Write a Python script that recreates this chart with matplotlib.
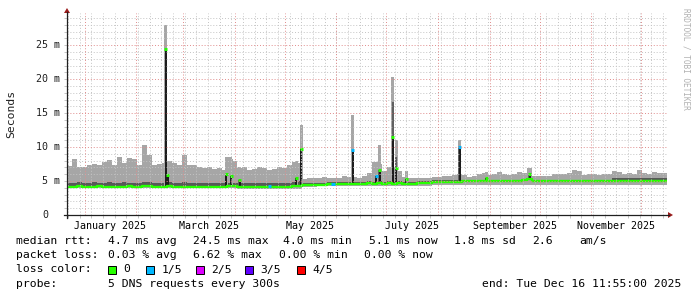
import numpy as np
import matplotlib.pyplot as plt
import matplotlib.dates as mdates
from matplotlib.patches import Rectangle, Polygon
from datetime import datetime, timedelta

plt.rcParams['font.family'] = ['DejaVu Sans Mono']

# one year of DNS probes, a smoke column every 3 days
end_time = datetime(2025, 12, 16, 11, 55)
start_time = end_time - timedelta(days=360)
step_days = 3

# values in ms
smoke_top = [7.2, 8.2, 7.1, 7.0, 7.3, 7.5, 7.4, 7.8, 8.1, 7.4,
             8.6, 7.6, 8.4, 8.2, 7.3, 10.3, 8.9, 7.4, 7.5, 7.6,
             8.0, 7.7, 7.4, 8.8, 7.4, 7.3, 7.0, 6.9, 7.1, 6.8,
             6.9, 6.7, 8.5, 8.0, 6.9, 7.0, 6.7, 6.8, 7.1, 6.9,
             6.6, 6.8, 7.0, 6.9, 7.3, 7.8, 7.6, 5.3, 5.4, 5.5,
             5.4, 5.6, 5.5, 5.4, 5.5, 5.7, 5.6, 5.6, 5.5, 5.7,
             6.2, 7.8, 7.5, 6.5, 7.0, 7.0, 6.5, 5.6, 5.5, 5.5,
             5.4, 5.4, 5.5, 5.6, 5.6, 5.7, 5.8, 5.9, 6.0, 5.9,
             5.6, 5.8, 6.0, 6.2, 5.9, 6.1, 6.3, 6.0, 5.9, 6.1,
             6.3, 6.2, 6.9, 5.8, 5.7, 5.8, 5.7, 6.0, 6.1, 6.0,
             6.2, 6.7, 6.5, 5.9, 6.0, 6.1, 5.9, 6.0, 6.1, 6.5,
             6.4, 6.1, 6.2, 6.0, 6.6, 6.2, 6.1, 6.3, 6.2, 6.2]

smoke_low = [3.95, 3.95, 3.95, 3.95, 3.95, 3.95, 3.95, 3.95, 3.95, 3.95,
             3.95, 3.95, 3.95, 3.95, 3.95, 3.95, 3.95, 3.95, 3.95, 3.95,
             3.95, 3.95, 3.95, 3.95, 3.95, 3.95, 3.95, 3.95, 3.95, 3.95,
             3.95, 3.95, 3.95, 3.95, 3.9, 3.9, 3.9, 3.9, 3.9, 3.9,
             3.9, 3.9, 3.9, 3.9, 3.9, 3.9, 3.9, 4.1, 4.15, 4.15,
             4.2, 4.2, 4.2, 4.25, 4.25, 4.25, 4.25, 4.25, 4.25, 4.25,
             4.25, 4.25, 4.25, 4.25, 4.25, 4.25, 4.25, 4.25, 4.25, 4.25,
             4.25, 4.25, 4.3, 4.35, 4.35, 4.35, 4.35, 4.4, 4.4, 4.4,
             4.35, 4.35, 4.35, 4.35, 4.35, 4.35, 4.35, 4.35, 4.35, 4.35,
             4.35, 4.35, 4.35, 4.35, 4.35, 4.35, 4.35, 4.35, 4.35, 4.35,
             4.35, 4.35, 4.35, 4.35, 4.35, 4.35, 4.35, 4.35, 4.35, 4.4,
             4.4, 4.4, 4.4, 4.4, 4.4, 4.4, 4.4, 4.4, 4.4, 4.4]

dark_top = [4.75, 4.75, 4.8, 4.75, 4.75, 4.8, 4.75, 4.75, 4.8, 4.75,
            4.75, 4.8, 4.75, 4.75, 4.75, 4.85, 4.9, 4.75, 4.75, 4.75,
            4.8, 4.75, 4.75, 4.8, 4.75, 4.75, 4.7, 4.75, 4.7, 4.7,
            4.75, 4.7, 4.75, 4.75, 4.7, 4.65, 4.65, 4.65, 4.7, 4.65,
            4.65, 4.7, 4.65, 4.65, 4.75, 4.85, 4.95, 4.65, 4.7, 4.7,
            4.75, 4.75, 4.8, 4.85, 4.85, 4.9, 4.9, 4.9, 4.9, 4.9,
            4.95, 4.9, 4.95, 4.9, 4.95, 4.9, 4.95, 4.9, 4.9, 4.9,
            4.95, 4.95, 5.0, 5.15, 5.15, 5.15, 5.15, 5.2, 5.2, 5.15,
            5.1, 5.1, 5.1, 5.15, 5.1, 5.1, 5.1, 5.1, 5.1, 5.1,
            5.15, 5.35, 5.45, 5.1, 5.1, 5.1, 5.1, 5.1, 5.1, 5.1,
            5.1, 5.15, 5.1, 5.1, 5.1, 5.1, 5.1, 5.1, 5.15, 5.45,
            5.45, 5.4, 5.45, 5.45, 5.45, 5.45, 5.4, 5.45, 5.45, 5.45]

rtt_med = [4.15, 4.15, 4.2, 4.15, 4.15, 4.15, 4.2, 4.15, 4.15, 4.15,
           4.15, 4.15, 4.2, 4.15, 4.15, 4.2, 4.25, 4.15, 4.15, 4.15,
           4.2, 4.15, 4.15, 4.15, 4.15, 4.15, 4.15, 4.15, 4.15, 4.15,
           4.15, 4.15, 4.2, 4.2, 4.15, 4.15, 4.1, 4.1, 4.1, 4.1,
           4.1, 4.15, 4.1, 4.1, 4.15, 4.2, 4.3, 4.35, 4.4, 4.4,
           4.45, 4.45, 4.5, 4.55, 4.55, 4.6, 4.6, 4.6, 4.6, 4.6,
           4.65, 4.6, 4.65, 4.6, 4.65, 4.6, 4.65, 4.6, 4.6, 4.6,
           4.65, 4.65, 4.7, 4.85, 4.85, 4.85, 4.85, 4.9, 4.9, 4.95,
           4.95, 4.95, 4.95, 5.0, 4.95, 4.95, 4.95, 4.95, 4.95, 4.95,
           5.0, 5.2, 5.3, 4.95, 4.95, 4.95, 4.95, 4.95, 4.95, 4.95,
           4.95, 4.95, 4.95, 4.95, 4.95, 4.95, 4.95, 4.95, 5.0, 5.0,
           5.0, 5.0, 5.0, 4.95, 5.0, 5.0, 5.0, 5.0, 5.0, 5.0]

# short bursts of slow answers
spike_dates = ['2025-02-18 20:00', '2025-02-20', '2025-03-27', '2025-03-30',
               '2025-04-04', '2025-05-08', '2025-05-11', '2025-06-11',
               '2025-06-25', '2025-06-27', '2025-07-05', '2025-07-07',
               '2025-07-13', '2025-08-14', '2025-08-30', '2025-09-25']
spike_top = [28.0, 7.8, 8.5, 8.2, 7.0, 8.0, 13.2, 14.8,
             7.8, 10.3, 20.3, 11.1, 6.5, 11.1, 6.3, 6.9]
spike_mid = [24.5, 5.9, 6.1, 5.8, 5.2, 5.5, 9.7, 9.6,
             5.7, 6.6, 16.7, 8.6, 5.3, 10.0, 5.4, 6.0]
spike_peak = [24.5, 5.9, 6.1, 5.8, 5.2, 5.5, 9.7, 9.6,
              5.7, 6.6, 11.5, 6.9, 5.3, 10.0, 5.4, 6.0]
spike_loss = [0, 0, 0, 0, 0, 0, 0, 1, 1, 0, 0, 0, 0, 1, 0, 0]

loss_dates = ['2025-04-22', '2025-05-30']
loss_vals = [4.2, 4.6]
loss_level = [1, 1]

loss_names = ['0', '1/5', '2/5', '3/5', '4/5']
loss_colors = ['#26ff00', '#00b8ff', '#dd00ff', '#5e00ff', '#ff0000']

label_months = ['2025-01', '2025-03', '2025-05', '2025-07', '2025-09', '2025-11']
label_names = ['January 2025', 'March 2025', 'May 2025', 'July 2025',
               'September 2025', 'November 2025']

y_ticks = [0, 5, 10, 15, 20, 25]
y_labels = ['0', '5 m', '10 m', '15 m', '20 m', '25 m']
y_max = 29.75

W, H = 697, 297
fig = plt.figure(figsize=(W / 100, H / 100), dpi=100)
fig.patch.set_facecolor('white')
ax = fig.add_axes([67 / W, 1 - 215 / H, 600 / W, 202 / H])

n = len(smoke_top)
xe = mdates.date2num([start_time + timedelta(days=step_days * i) for i in range(n + 1)])


def ext(a):
    return np.append(a, a[-1])


ax.fill_between(xe, ext(smoke_low), ext(smoke_top), step='post',
                color='#a6a6a6', lw=0, zorder=1)
ax.fill_between(xe, ext(rtt_med), ext(dark_top), step='post',
                color='#585858', lw=0, zorder=2)

# spikes
sx = mdates.datestr2num(spike_dates)
idx = np.clip(((sx - xe[0]) // step_days).astype(int), 0, n - 1)
base = np.array(rtt_med)[idx]
ax.bar(sx, np.array(spike_top) - base, bottom=base, width=1.8,
       color='#a6a6a6', lw=0, zorder=3)
ax.bar(sx, np.array(spike_mid) - base, bottom=base, width=1.4,
       color='#606060', lw=0, zorder=3)
ax.bar(sx, np.array(spike_peak) - base, bottom=base, width=1.2,
       color='#1c1c1c', lw=0, zorder=4)

ax.step(xe, ext(rtt_med), where='post', color=loss_colors[0], lw=1.7, zorder=5)
for x, y, l in zip(sx, spike_peak, spike_loss):
    ax.plot([x - 0.9, x + 0.9], [y, y], color=loss_colors[l], lw=2.2,
            solid_capstyle='butt', zorder=6)
for x, y, l in zip(mdates.datestr2num(loss_dates), loss_vals, loss_level):
    ax.plot([x - 1.0, x + 1.0], [y, y], color=loss_colors[l], lw=2.2,
            solid_capstyle='butt', zorder=6)

# grid on top like rrdtool
weeks = mdates.WeekdayLocator(byweekday=mdates.SU).tick_values(start_time, end_time)
months = mdates.MonthLocator().tick_values(start_time, end_time)
dot = (0, (1, 2))
for w in weeks:
    ax.axvline(w, color='#c4c4c4', lw=0.7, ls=dot, zorder=7)
for m in months:
    ax.axvline(m, color='#e08c8c', lw=0.7, ls=dot, zorder=8)
for v in range(1, int(y_max) + 1):
    if v % 5:
        ax.axhline(v, color='#c4c4c4', lw=0.7, ls=dot, zorder=7)
for v in y_ticks[1:]:
    ax.axhline(v, color='#e08c8c', lw=0.7, ls=dot, zorder=8)

ax.set_ylim(0, y_max)
for s in ax.spines.values():
    s.set_visible(False)

lm = np.array(label_months, dtype='datetime64[M]')
centers = (mdates.date2num(lm) + mdates.date2num(lm + 1)) / 2
ax.set_xticks(centers, label_names)
ax.set_xticks(weeks, minor=True)
ax.tick_params(axis='x', which='major', length=0, pad=4.5, labelsize=7.2)
ax.tick_params(axis='x', which='minor', length=2, width=0.7, color='#c4c4c4')
ax.set_yticks(y_ticks, [''] * len(y_ticks))
ax.set_yticks(range(0, int(y_max) + 1), minor=True)
ax.tick_params(axis='y', which='both', length=2, width=0.7, color='#c4c4c4')
ax.set_xlim(xe[0], xe[-1])

# overlay in pixel coordinates
ov = fig.add_axes([0, 0, 1, 1], zorder=10)
ov.set_xlim(0, W)
ov.set_ylim(H, 0)
ov.axis('off')
ov.patch.set_alpha(0)

ov.plot([67, 67], [218, 12], color='#202020', lw=0.9)
ov.plot([64, 669], [215, 215], color='#202020', lw=0.9)
ov.add_patch(Polygon([[64, 13], [70, 13], [67, 8]], closed=True, color='#9b1c1c', lw=0))
ov.add_patch(Polygon([[668, 212], [668, 218], [673, 215]], closed=True, color='#9b1c1c', lw=0))

px_per_ms = 202 / y_max
for v, s in zip(y_ticks, y_labels):
    ov.text(60 if 'm' in s else 48, 215 - v * px_per_ms, s, ha='right', va='center',
            fontsize=7.2, color='#202020')

ov.text(11, 114, 'Seconds', rotation=90, ha='center', va='center',
        fontsize=8.2, color='#202020')
ov.text(686, 59, 'RRDTOOL / TOBI OETIKER', rotation=270, ha='center', va='center',
        fontsize=5.6, color='#b0b0b0')

fs = 8.2
line1 = ['median rtt:', '4.7 ms avg', '24.5 ms max', '4.0 ms min', '5.1 ms now',
         '1.8 ms sd', '2.6', 'am/s']
line1_x = [16, 108, 193, 283, 369, 454, 532, 579]
line2 = ['packet loss:', '0.03 % avg', '6.62 % max', '0.00 % min', '0.00 % now']
line2_x = [16, 108, 193, 279, 364]
for s, x in zip(line1, line1_x):
    ov.text(x, 241, s, ha='left', va='center', fontsize=fs)
for s, x in zip(line2, line2_x):
    ov.text(x, 255.5, s, ha='left', va='center', fontsize=fs)

ov.text(16, 269.5, 'loss color:', ha='left', va='center', fontsize=fs)
box_x = [108, 146, 196, 245, 297]
for bx, c, name in zip(box_x, loss_colors, loss_names):
    ov.add_patch(Rectangle((bx, 265.5), 8, 8, facecolor=c, edgecolor='black', lw=0.7))
    ov.text(bx + 15.5, 269.5, name, ha='left', va='center', fontsize=fs)

ov.text(16, 284, 'probe:', ha='left', va='center', fontsize=fs)
ov.text(108, 284, '5 DNS requests every 300s', ha='left', va='center', fontsize=fs)
ov.text(681, 284, 'end: Tue Dec 16 11:55:00 2025', ha='right', va='center', fontsize=fs)

fig.savefig('out.png', dpi=100)
